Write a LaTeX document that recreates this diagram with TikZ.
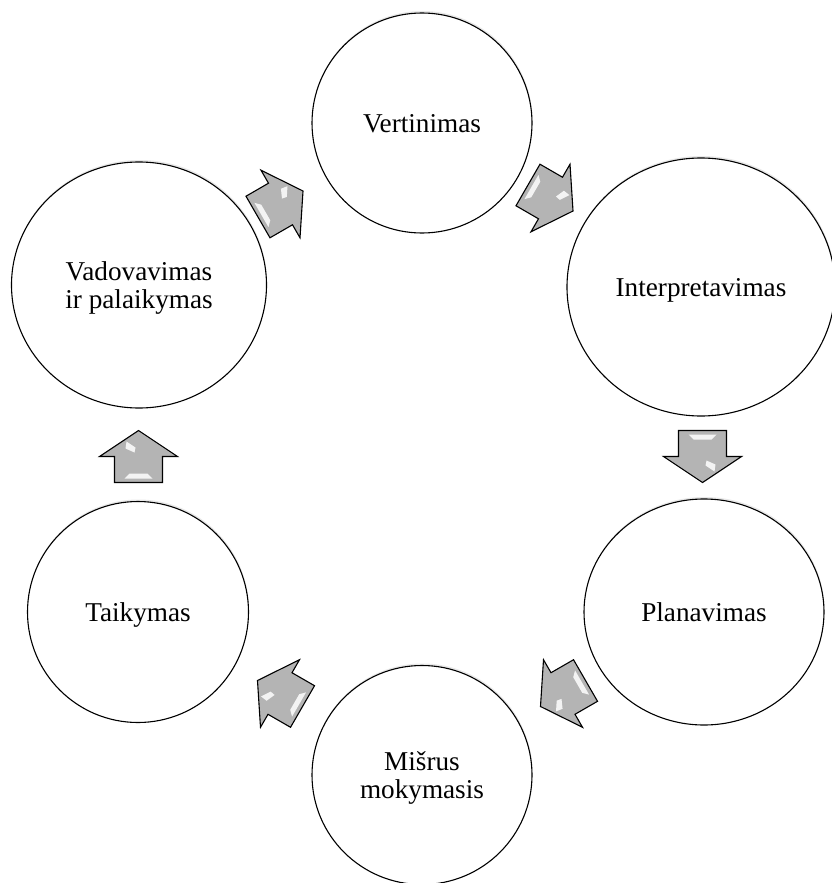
\documentclass[tikz,border=0pt]{standalone}
\usepackage{fontspec}
\setmainfont{Liberation Serif}
\usepackage{tikz}
\usetikzlibrary{shapes.geometric,shadows,calc}

\tikzset{
  stage/.style={ellipse, draw, line width=1.1pt, fill=white, inner sep=0pt,
    align=center, text depth=0pt, font=\fontsize{27.2}{28.3}\selectfont,
    drop shadow={opacity=0.18, shadow xshift=0.5pt, shadow yshift=2pt}},
  cyclearrow/.pic={
    \draw [line width=1.1pt, fill={rgb,255:red,180;green,180;blue,180}] (-26,-24) -- (0,-24) -- (0,-39) -- (26,0) -- (0,39) -- (0,24) -- (-26,24) -- cycle ;
    \fill [white, opacity=0.85] (-22,-14) -- (-22,14) -- (-17,9) -- (-17,-9) -- cycle ;
    \fill [white, opacity=0.85] (4,4) -- (9,3) -- (15,12) -- (8,13) -- cycle ;
  }
}

\begin{document}
\begin{tikzpicture}[x=1pt,y=1pt,yscale=-1,xscale=1]
\fill [white] (0,0) rectangle (831,883) ;
\useasboundingbox (0,0) rectangle (831,883) ;

\node [stage, minimum width=220pt, minimum height=220pt] (vert) at (422,123) {Vertinimas};
\node [stage, minimum width=268pt, minimum height=258pt] (interp) at (701,287) {Interpretavimas};
\node [stage, minimum width=240pt, minimum height=226pt] (plan) at (704,612) {Planavimas};
\node [stage, minimum width=220pt, minimum height=219pt] (mis) at (422,775) {Mišrus\\mokymasis};
\node [stage, minimum width=221pt, minimum height=221pt] (tai) at (138,612) {Taikymas};
\node [stage, minimum width=255pt, minimum height=246pt] (vad) at (139,285) {Vadovavimas\\ir palaikymas};

\pic [rotate=30] at ($(vad)!0.5!(vert)$) {cyclearrow};
\pic [rotate=-30] at ($(vert)!0.5!(interp)+(-11,-7)$) {cyclearrow};
\pic [rotate=-90] at ($(interp)!0.5!(plan)+(0,7)$) {cyclearrow};
\pic [rotate=-150] at ($(plan)!0.5!(mis)$) {cyclearrow};
\pic [rotate=150] at ($(mis)!0.5!(tai)$) {cyclearrow};
\pic [rotate=90] at ($(tai)!0.5!(vad)+(0,8)$) {cyclearrow};
\end{tikzpicture}
\end{document}
